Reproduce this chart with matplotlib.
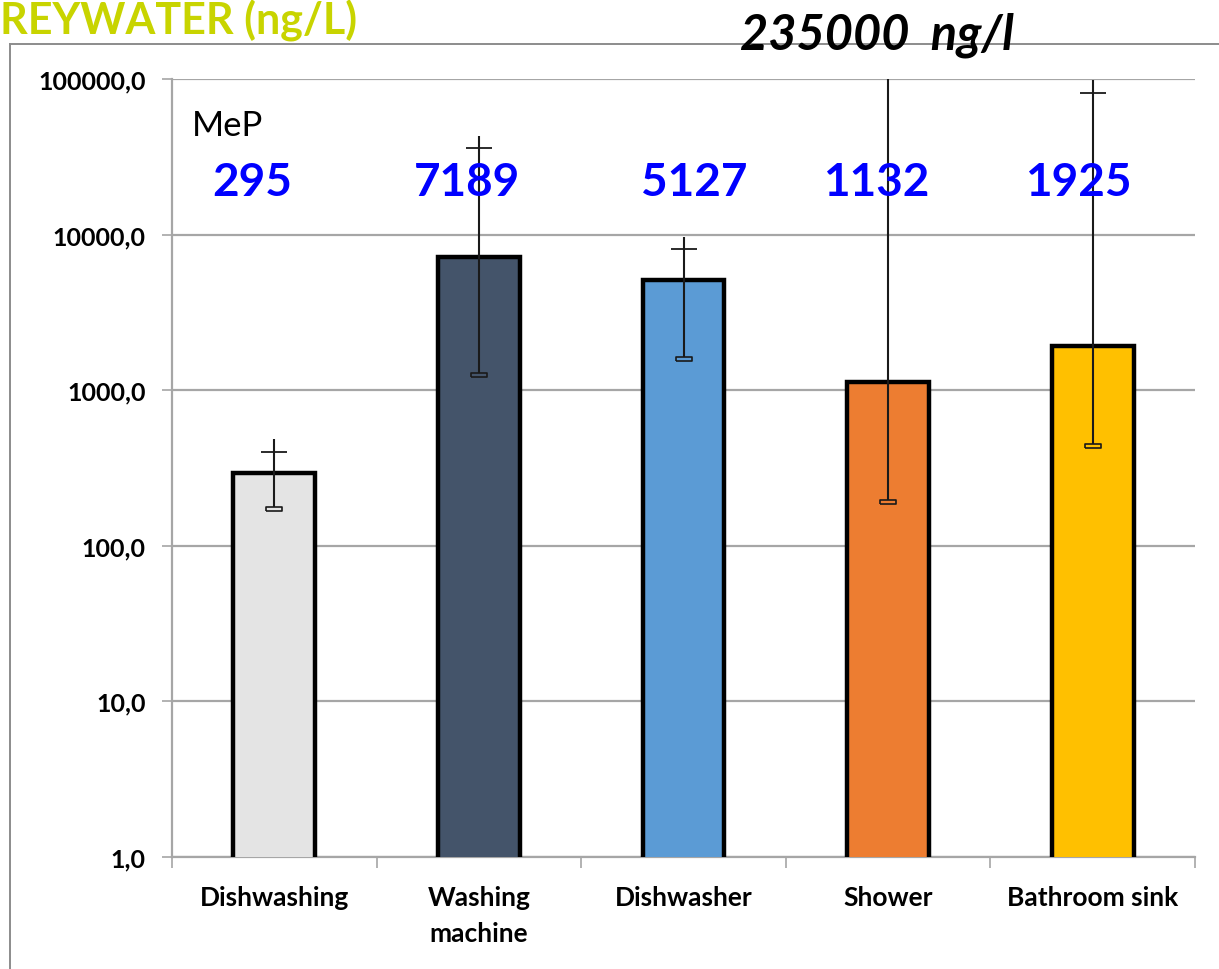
import numpy as np
import matplotlib.pyplot as plt
from matplotlib.path import Path
from matplotlib.lines import Line2D
from matplotlib.ticker import FixedLocator, FuncFormatter, NullFormatter

# MeP concentrations in greywater sources (ng/L)
categories = ['Dishwashing', 'Washing\nmachine', 'Dishwasher', 'Shower', 'Bathroom sink']
values = [295, 7189, 5127, 1132, 1925]
value_labels = ['295', '7189', '5127', '1132', '1925']
err_low = [173, 1253, 1585, 191, 437]          # lower caps
err_high = [401, 36000, 8070, 235000, 81000]   # upper caps
whisker_top = [485, 43000, 9660, 235000, 99000]  # top end of the vertical line
colors = ['#E4E4E4', '#44546A', '#5B9BD5', '#ED7D31', '#FFC000']
label_offsets = [-0.11, -0.06, 0.05, -0.06, -0.07]

plt.rcParams['font.family'] = ['Lato', 'DejaVu Sans']

fig = plt.figure(figsize=(12.19, 9.70), dpi=100)
ax = fig.add_axes([172 / 1219, 1 - 858 / 970, (1195 - 172) / 1219, (858 - 80) / 970])

x = np.arange(len(categories))
ax.bar(x, values, width=0.4, color=colors, edgecolor='black', linewidth=3.2, zorder=3)

# error bars: vertical line, small upper cap, boxed lower cap
ax.vlines(x, err_low, whisker_top, color='#1a1a1a', linewidth=1.5, zorder=4)
ax.plot(x, err_high, linestyle='none', marker='_', markersize=19, markeredgewidth=1.3,
        color='#1a1a1a', zorder=4)
box = Path([(-1, -0.28), (1, -0.28), (1, 0.28), (-1, 0.28), (-1, -0.28)])
for xi, lo, c in zip(x, err_low, colors):
    ax.plot(xi, lo, linestyle='none', marker=box, markersize=11.5, markerfacecolor=c,
            markeredgecolor='#1a1a1a', markeredgewidth=1.2, zorder=5)

ax.set_yscale('log')
ax.set_ylim(1, 100000)
ax.set_xlim(-0.5, 4.5)

ax.yaxis.set_major_locator(FixedLocator([1, 10, 100, 1000, 10000, 100000]))
ax.yaxis.set_minor_locator(FixedLocator([]))
ax.yaxis.set_major_formatter(FuncFormatter(lambda v, p: f'{v:.1f}'.replace('.', ',')))
ax.grid(axis='y', color='#a6a6a6', linewidth=1.6, zorder=0)
ax.tick_params(axis='y', length=7, width=1.2, color='#a6a6a6', pad=12, labelsize=18)
for t in ax.get_yticklabels():
    t.set_fontweight('bold')

ax.xaxis.set_major_locator(FixedLocator(np.arange(-0.5, 5, 1)))
ax.xaxis.set_major_formatter(NullFormatter())
ax.xaxis.set_minor_locator(FixedLocator(x))
ax.set_xticks(x, categories, minor=True)
ax.tick_params(axis='x', which='major', length=8, width=1.2, color='#a6a6a6')
ax.tick_params(axis='x', which='minor', length=0, pad=20, labelsize=19)
for t in ax.get_xticklabels(minor=True):
    t.set_fontweight('bold')
    t.set_verticalalignment('top')
    t.set_linespacing(1.6)

for side in ['top', 'right']:
    ax.spines[side].set_visible(False)
ax.spines['left'].set_color('#a6a6a6')
ax.spines['left'].set_linewidth(1.6)
ax.spines['bottom'].set_color('#a6a6a6')
ax.spines['bottom'].set_linewidth(1.6)

# value labels and series name
for xi, lab, off in zip(x, value_labels, label_offsets):
    ax.text(xi + off, 21800, lab, ha='center', va='center', color='#0000FF',
            fontsize=33, fontweight='bold', zorder=6)
ax.text(192 / 1219, 1 - 126 / 970, 'MeP', transform=fig.transFigure, fontsize=25,
        ha='left', va='center', color='black')

# surrounding chart frame
fig.add_artist(Line2D([10 / 1219, 10 / 1219], [0, 1 - 45 / 970], color='#8c8c8c', linewidth=1.4))
fig.add_artist(Line2D([10 / 1219, 1], [1 - 45 / 970, 1 - 45 / 970], color='#8c8c8c', linewidth=1.4))

fig.text(0.0, 1 - 35 / 970, 'REYWATER (ng/L)', fontsize=31, fontweight='bold',
         color='#C8D400', ha='left', va='baseline')
fig.text(877 / 1219, 1 - 35 / 970, '235000  ng/l', fontsize=35, fontweight='bold',
         fontstyle='italic', color='black', ha='center', va='center')

fig.savefig('out.png', dpi=100)
